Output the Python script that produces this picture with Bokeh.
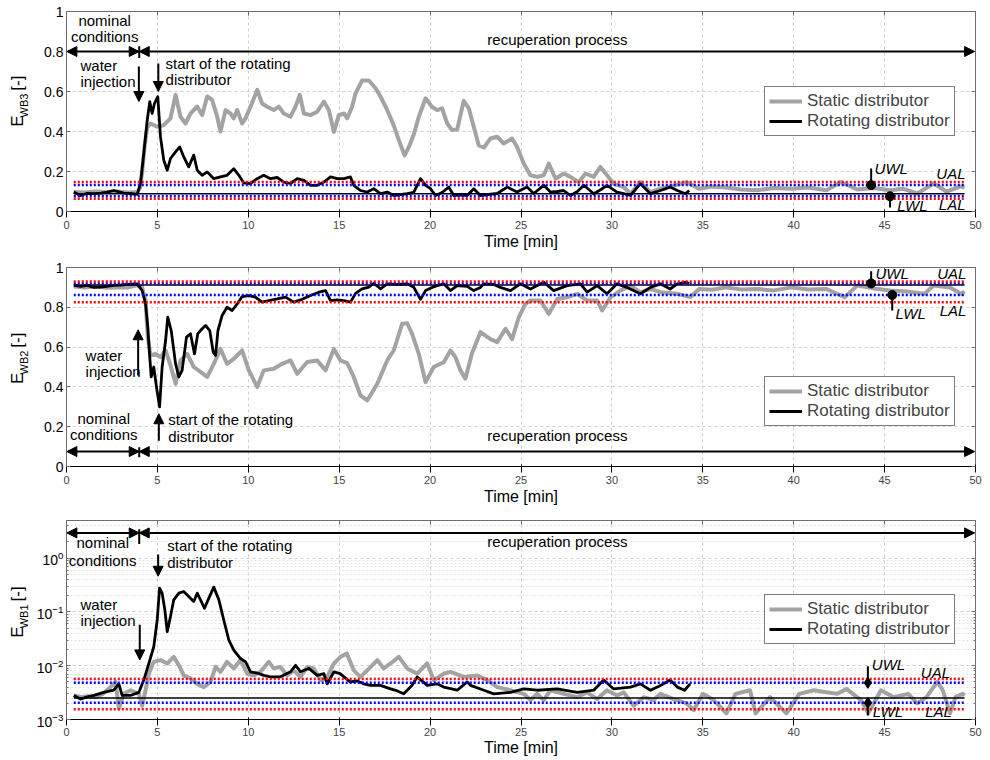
import math
from bokeh.plotting import figure
from bokeh.models import (Range1d, Arrow, NormalHead, Label, Legend, LegendItem,
                          FixedTicker, PrintfTickFormatter, LinearAxis, LogAxis,
                          CustomJSTickFormatter)
from bokeh.layouts import column, row
from bokeh.embed import file_html
from bokeh.resources import INLINE

FONT = "Liberation Sans"

# ---------------- data ----------------
time_ticks = [0, 5, 10, 15, 20, 25, 30, 35, 40, 45, 50]
lin_ticks = [0, 0.2, 0.4, 0.6, 0.8, 1]
log_ticks = [1e-3, 1e-2, 1e-1, 1e0]
series_names = ["Static distributor", "Rotating distributor"]

# (time [min], E_WB3)
wb3_static = [(0.4,0.098),(1.0,0.095),(1.6,0.1),(2.2,0.097),(2.8,0.1),(3.4,0.095),(3.9,0.097),(4.05,0.12),(4.17,0.205),(4.3,0.33),(4.44,0.42),(4.62,0.44),(4.99,0.424),(5.35,0.432),(5.72,0.466),(6.0,0.583),(6.27,0.474),(6.55,0.44),(6.82,0.49),(7.19,0.525),(7.46,0.482),(7.74,0.575),(8.01,0.558),(8.29,0.474),(8.47,0.4),(8.75,0.507),(9.02,0.49),(9.2,0.466),(9.39,0.507),(9.66,0.44),(9.85,0.466),(10.2,0.541),(10.49,0.608),(10.76,0.54),(11.04,0.524),(11.4,0.507),(11.68,0.524),(11.95,0.49),(12.32,0.474),(12.6,0.524),(12.83,0.583),(13.06,0.49),(13.42,0.482),(13.79,0.499),(14.16,0.549),(14.43,0.507),(14.71,0.398),(14.98,0.482),(15.26,0.49),(15.44,0.466),(15.71,0.524),(15.9,0.591),(16.26,0.655),(16.63,0.655),(17.0,0.616),(17.27,0.575),(17.55,0.524),(17.82,0.47),(18.0,0.43),(18.28,0.357),(18.6,0.28),(18.83,0.323),(19.1,0.385),(19.38,0.474),(19.75,0.566),(20.1,0.524),(20.39,0.507),(20.66,0.516),(20.94,0.44),(21.21,0.407),(21.49,0.41),(21.85,0.553),(22.13,0.516),(22.4,0.424),(22.68,0.33),(22.96,0.32),(23.32,0.365),(23.69,0.374),(24.05,0.34),(24.51,0.365),(24.78,0.324),(25.15,0.24),(25.52,0.181),(25.89,0.173),(26.25,0.181),(26.53,0.24),(26.9,0.164),(27.35,0.19),(27.72,0.173),(28.18,0.147),(28.55,0.19),(29.0,0.173),(29.37,0.223),(29.73,0.181),(30.1,0.139),(30.65,0.122),(31.02,0.089),(31.57,0.147),(32.12,0.097),(32.67,0.114),(33.4,0.13),(34.1,0.147),(34.8,0.114),(35.5,0.125),(36.3,0.12),(37.1,0.11),(38.0,0.106),(38.9,0.118),(39.9,0.114),(40.8,0.12),(41.8,0.106),(42.6,0.147),(43.5,0.11),(44.4,0.118),(45.3,0.106),(46.0,0.114),(46.8,0.09),(47.7,0.14),(48.4,0.1),(49.2,0.126),(49.4,0.12)]
wb3_rotating = [(0.4,0.097),(0.77,0.08),(1.1,0.09),(1.5,0.089),(1.9,0.092),(2.24,0.097),(2.6,0.105),(2.9,0.098),(3.15,0.092),(3.5,0.09),(3.89,0.086),(4.07,0.14),(4.25,0.29),(4.44,0.457),(4.58,0.549),(4.71,0.49),(4.84,0.54),(5.02,0.574),(5.17,0.373),(5.35,0.256),(5.54,0.206),(5.72,0.265),(6.0,0.298),(6.23,0.323),(6.45,0.273),(6.72,0.223),(7.0,0.282),(7.19,0.206),(7.46,0.181),(7.74,0.198),(8.1,0.164),(8.47,0.173),(8.83,0.181),(9.2,0.214),(9.48,0.181),(9.75,0.143),(10.12,0.14),(10.49,0.164),(10.85,0.181),(11.22,0.164),(11.59,0.17),(11.95,0.147),(12.32,0.14),(12.69,0.164),(13.06,0.156),(13.42,0.131),(13.79,0.131),(14.16,0.147),(14.52,0.173),(14.89,0.164),(15.26,0.164),(15.62,0.173),(15.8,0.131),(16.17,0.105),(16.54,0.097),(16.9,0.114),(17.27,0.089),(17.64,0.097),(18.0,0.08),(18.4,0.085),(18.74,0.089),(19.1,0.095),(19.47,0.164),(19.75,0.131),(20.02,0.114),(20.3,0.08),(20.66,0.095),(21.03,0.122),(21.3,0.08),(21.7,0.083),(22.04,0.08),(22.4,0.114),(22.77,0.08),(23.2,0.085),(23.69,0.09),(24.24,0.122),(24.78,0.097),(25.33,0.122),(25.7,0.09),(26.25,0.131),(26.62,0.097),(27.0,0.1),(27.35,0.105),(27.72,0.08),(28.1,0.1),(28.46,0.131),(29.0,0.089),(29.4,0.11),(29.73,0.131),(30.28,0.097),(30.65,0.089),(31.02,0.08),(31.57,0.139),(32.12,0.089),(32.67,0.105),(33.2,0.122),(33.6,0.105),(34.05,0.089),(34.25,0.105)]
wb3_limits = [0.064, 0.076, 0.089, 0.132, 0.147]   # LAL, LWL, CL, UWL, UAL

# (time [min], E_WB2)
wb2_static = [(0.4,0.905),(1.0,0.9),(1.6,0.905),(2.2,0.898),(2.8,0.9),(3.4,0.9),(3.89,0.91),(4.16,0.9),(4.35,0.834),(4.47,0.65),(4.62,0.558),(4.9,0.566),(5.17,0.55),(5.45,0.583),(5.72,0.508),(6.0,0.416),(6.27,0.533),(6.64,0.566),(7.0,0.5),(7.37,0.475),(7.74,0.45),(8.1,0.516),(8.47,0.591),(8.83,0.516),(9.2,0.541),(9.66,0.583),(10.03,0.483),(10.49,0.4),(10.85,0.483),(11.4,0.491),(11.86,0.516),(12.32,0.533),(12.69,0.466),(13.24,0.525),(13.79,0.533),(14.25,0.483),(14.71,0.591),(15.07,0.533),(15.44,0.52),(15.8,0.45),(16.17,0.357),(16.54,0.332),(17.09,0.415),(17.64,0.533),(18.0,0.583),(18.46,0.717),(18.74,0.72),(19.01,0.667),(19.38,0.566),(19.75,0.424),(20.2,0.5),(20.75,0.524),(21.12,0.583),(21.39,0.55),(21.67,0.483),(21.94,0.441),(22.31,0.57),(22.77,0.675),(23.32,0.64),(23.69,0.625),(24.15,0.692),(24.51,0.64),(24.88,0.75),(25.24,0.817),(25.52,0.834),(26.07,0.834),(26.53,0.767),(26.99,0.842),(27.54,0.85),(28.09,0.868),(28.64,0.834),(29.19,0.834),(29.46,0.784),(29.92,0.85),(30.46,0.884),(31.02,0.909),(31.57,0.876),(32.12,0.892),(32.67,0.876),(33.6,0.868),(34.3,0.851),(34.8,0.892),(35.5,0.888),(36.3,0.9),(37.1,0.89),(38.0,0.892),(38.9,0.885),(39.9,0.9),(40.8,0.89),(41.8,0.892),(42.8,0.851),(43.5,0.909),(44.4,0.895),(45.3,0.884),(46.2,0.88),(47.2,0.868),(47.7,0.909),(48.6,0.9),(49.2,0.868),(49.4,0.88)]
wb2_rotating = [(0.4,0.91),(0.8,0.905),(1.14,0.91),(1.5,0.9),(1.87,0.901),(2.2,0.905),(2.6,0.91),(3.0,0.912),(3.34,0.915),(3.89,0.918),(4.16,0.884),(4.35,0.817),(4.47,0.7),(4.58,0.55),(4.66,0.45),(4.8,0.5),(4.95,0.399),(5.12,0.3),(5.26,0.5),(5.45,0.633),(5.57,0.75),(5.76,0.683),(6.0,0.516),(6.18,0.45),(6.36,0.483),(6.6,0.65),(6.82,0.667),(7.04,0.566),(7.22,0.667),(7.46,0.692),(7.65,0.709),(7.88,0.683),(8.07,0.575),(8.2,0.558),(8.33,0.683),(8.56,0.759),(8.83,0.8),(9.11,0.784),(9.39,0.817),(9.66,0.854),(10.03,0.859),(10.39,0.851),(10.76,0.826),(11.13,0.834),(11.59,0.842),(12.05,0.851),(12.5,0.826),(12.96,0.84),(13.42,0.859),(13.88,0.876),(14.25,0.884),(14.52,0.834),(14.89,0.837),(15.26,0.834),(15.62,0.826),(15.9,0.87),(16.26,0.893),(16.63,0.901),(16.9,0.921),(17.27,0.893),(17.64,0.918),(18.19,0.915),(18.74,0.918),(19.1,0.901),(19.47,0.84),(19.75,0.884),(20.11,0.9),(20.39,0.909),(20.75,0.918),(21.12,0.884),(21.49,0.909),(22.04,0.905),(22.4,0.884),(22.77,0.9),(22.96,0.918),(23.5,0.915),(23.87,0.9),(24.42,0.884),(24.97,0.918),(25.52,0.892),(26.25,0.926),(26.8,0.884),(27.54,0.909),(28.27,0.918),(28.64,0.876),(29.19,0.909),(29.73,0.868),(30.28,0.918),(30.83,0.9),(31.57,0.868),(32.12,0.9),(32.67,0.918),(33.2,0.892),(33.6,0.918),(34.1,0.926),(34.25,0.92)]
wb2_limits = [0.826, 0.862, 0.912, 0.92, 0.93]   # LAL, LWL, CL, UWL, UAL

# (time [min], E_WB1)
wb1_static = [(0.4,0.0028),(0.8,0.0026),(1.2,0.0027),(1.6,0.0026),(2.0,0.003),(2.42,0.004),(2.7,0.005),(2.88,0.0016),(3.15,0.003),(3.52,0.0035),(3.98,0.003),(4.16,0.0018),(4.35,0.0035),(4.53,0.0071),(4.8,0.0118),(5.17,0.0127),(5.54,0.011),(5.9,0.0146),(6.18,0.0102),(6.45,0.0066),(6.82,0.0058),(7.19,0.0046),(7.55,0.004),(7.92,0.005),(8.2,0.0095),(8.47,0.0077),(8.83,0.0118),(9.2,0.0089),(9.57,0.0127),(9.94,0.0071),(10.3,0.0066),(10.67,0.0077),(11.13,0.0118),(11.4,0.0089),(11.77,0.0095),(12.14,0.0066),(12.5,0.0082),(12.87,0.0062),(13.24,0.0095),(13.6,0.0089),(13.97,0.0054),(14.34,0.0062),(14.71,0.011),(15.07,0.0146),(15.42,0.0169),(15.8,0.0082),(16.17,0.0062),(16.54,0.0082),(17.1,0.0127),(17.45,0.0089),(17.82,0.011),(18.28,0.0146),(18.74,0.0089),(19.29,0.0071),(19.84,0.011),(20.2,0.0054),(20.75,0.0071),(21.12,0.0077),(21.85,0.0062),(22.59,0.0066),(23.14,0.0054),(23.69,0.004),(24.42,0.0035),(25.15,0.003),(25.52,0.0023),(25.89,0.003),(26.25,0.0023),(26.62,0.0035),(27.35,0.003),(28.09,0.0026),(28.64,0.0032),(29.19,0.0024),(29.73,0.0035),(30.28,0.0028),(30.65,0.0032),(31.2,0.0018),(31.75,0.0026),(32.3,0.0023),(32.67,0.003),(33.4,0.0024),(34.1,0.002),(34.5,0.0015),(35.0,0.003),(35.6,0.0023),(36.3,0.0013),(36.8,0.003),(37.6,0.0035),(37.9,0.0013),(38.7,0.0026),(39.6,0.0013),(40.3,0.003),(41.1,0.0035),(41.8,0.0032),(42.4,0.003),(42.9,0.0037),(43.7,0.0023),(44.1,0.0013),(44.8,0.0035),(45.5,0.0026),(46.3,0.003),(46.8,0.002),(47.3,0.0026),(47.9,0.005),(48.2,0.0035),(48.6,0.0013),(48.9,0.0026),(49.3,0.003),(49.4,0.0028)]
wb1_rotating = [(0.4,0.0028),(0.77,0.0024),(1.1,0.0026),(1.5,0.0028),(2.05,0.0032),(2.6,0.0035),(2.88,0.0046),(3.06,0.0028),(3.52,0.0028),(3.98,0.0032),(4.25,0.0054),(4.53,0.011),(4.8,0.0225),(4.99,0.0708),(5.12,0.277),(5.26,0.223),(5.41,0.109),(5.54,0.043),(5.72,0.082),(5.9,0.1675),(6.18,0.223),(6.45,0.24),(6.72,0.194),(7.0,0.156),(7.19,0.223),(7.37,0.1675),(7.59,0.117),(7.83,0.18),(8.1,0.289),(8.38,0.1675),(8.65,0.0708),(8.93,0.03),(9.2,0.0195),(9.57,0.0136),(9.85,0.0118),(10.12,0.0077),(10.49,0.0073),(10.85,0.0066),(11.22,0.0062),(11.77,0.0062),(12.32,0.0077),(12.6,0.0102),(12.87,0.0077),(13.33,0.0089),(13.79,0.0066),(14.16,0.0071),(14.34,0.0046),(14.71,0.0077),(15.05,0.0071),(15.6,0.005),(16.0,0.0052),(16.35,0.0046),(16.72,0.0043),(17.27,0.0043),(17.82,0.0037),(18.2,0.0034),(18.55,0.003),(19.0,0.0043),(19.29,0.0062),(19.84,0.0043),(20.39,0.0046),(20.75,0.004),(21.49,0.0035),(22.04,0.005),(22.22,0.0043),(22.96,0.0035),(23.5,0.003),(24.42,0.0032),(25.15,0.0037),(25.89,0.0035),(26.99,0.0037),(28.09,0.0032),(29.0,0.0035),(29.55,0.0054),(30.1,0.0037),(31.02,0.004),(31.57,0.0046),(32.12,0.0035),(32.67,0.0043),(33.2,0.0054),(33.6,0.004),(34.0,0.0035),(34.3,0.0046)]
wb1_limits = [0.00155, 0.00204, 0.00252, 0.0048, 0.00568]   # LAL, LWL, CL, UWL, UAL

# marker times of the UWL / LWL call-outs
wb3_marker_t = [44.26, 45.3]
wb2_marker_t = [44.26, 45.42]
wb1_marker_t = [44.08, 44.08]

# ---------------- styling helpers ----------------
GREY = "#a3a3a3"
AXC = "#6e6e6e"
LAB_W = 30          # width of the strip that carries the y-axis titles
MAIN_W = 955
LOG_MINOR = [m * d for d in log_ticks for m in range(2, 10)]


def blank_axis(ax, ticker):
    ax.ticker = ticker
    ax.formatter = CustomJSTickFormatter(code="return ''")
    ax.major_tick_in = 4
    ax.major_tick_out = 0
    ax.minor_tick_in = 2
    ax.minor_tick_out = 0
    ax.major_label_standoff = 0
    ax.major_label_text_font_size = "1px"
    ax.axis_line_color = None
    ax.major_tick_line_color = AXC
    ax.minor_tick_line_color = AXC


def make_fig(height, top, bottom, log=False, tick_standoff=3, label_standoff=1):
    kw = dict(width=MAIN_W, height=height, output_backend="svg", toolbar_location=None,
              x_range=Range1d(0, 50), min_border_left=36, min_border_right=10,
              min_border_top=top, min_border_bottom=bottom,
              background_fill_color="white", border_fill_color="white")
    if log:
        p = figure(y_axis_type="log", y_range=Range1d(1e-3, 5), **kw)
        p.yaxis.ticker = FixedTicker(ticks=log_ticks, minor_ticks=LOG_MINOR)
        p.yaxis.minor_tick_in = 2
        p.yaxis.minor_tick_out = 0
        p.yaxis.minor_tick_line_color = AXC
        p.ygrid.minor_grid_line_color = "#e2e2e2"
        p.ygrid.minor_grid_line_dash = "2 2"
        right = LogAxis()
        blank_axis(right, FixedTicker(ticks=log_ticks, minor_ticks=LOG_MINOR))
    else:
        p = figure(y_range=Range1d(0, 1), **kw)
        p.yaxis.ticker = FixedTicker(ticks=lin_ticks)
        p.yaxis.formatter = PrintfTickFormatter(format="%g")
        p.yaxis.minor_tick_line_color = None
        right = LinearAxis()
        blank_axis(right, FixedTicker(ticks=lin_ticks))
    p.add_layout(right, "right")
    top_ax = LinearAxis()
    blank_axis(top_ax, FixedTicker(ticks=time_ticks))
    p.add_layout(top_ax, "above")
    p.xaxis.ticker = FixedTicker(ticks=time_ticks)
    p.xaxis[0].minor_tick_line_color = None
    for ax in (p.xaxis[0], p.yaxis[0]):
        ax.major_tick_in = 4
        ax.major_tick_out = 0
        ax.axis_line_color = AXC
        ax.major_tick_line_color = AXC
        ax.major_label_text_font = FONT
        ax.major_label_text_font_size = "14px"
        ax.major_label_text_color = "black"
        ax.major_label_standoff = 3
    xa = p.below[0]
    xa.major_label_standoff = tick_standoff
    xa.axis_label = "Time [min]"
    xa.axis_label_text_font = FONT
    xa.axis_label_text_font_size = "16px"
    xa.axis_label_text_font_style = "normal"
    xa.axis_label_text_color = "black"
    xa.axis_label_standoff = label_standoff
    p.grid.grid_line_color = "#cfcfcf"
    p.grid.grid_line_dash = "3 3"
    p.outline_line_color = AXC
    p.outline_line_width = 1
    return p


def label_strip(height, bottom, frame_h, sub):
    s = figure(width=LAB_W, height=height, output_backend="svg", toolbar_location=None,
               x_range=Range1d(0, LAB_W), y_range=Range1d(0, height),
               min_border=0, x_axis_location=None, y_axis_location=None,
               background_fill_color="white", border_fill_color="white")
    s.grid.visible = False
    s.outline_line_color = None
    yc = bottom + frame_h / 2.0
    base = dict(angle=math.pi / 2, text_font=FONT, text_baseline="middle",
                text_align="left", text_color="black")
    s.add_layout(Label(x=17, y=yc - 36, text="E", text_font_size="17px", **base))
    s.add_layout(Label(x=23, y=yc - 24, text=sub, text_font_size="11px", **base))
    s.add_layout(Label(x=17, y=yc + 10, text="[-]", text_font_size="17px", **base))
    return s


def add_series(p, static, rotating, limits):
    ts, vs = zip(*static)
    tr, vr = zip(*rotating)
    g = p.line(list(ts), list(vs), line_color=GREY, line_width=4, line_join="round")
    b = p.line(list(tr), list(vr), line_color="black", line_width=2.8, line_join="round")
    t0, t1 = ts[0], ts[-1]
    lal, lwl, cl, uwl, ual = limits
    p.line([t0, t1], [cl, cl], line_color="black", line_width=1.5)
    for val in (lwl, uwl):
        p.line([t0, t1], [val, val], line_color="#0000ff", line_width=2.5, line_dash="2 2")
    for val in (lal, ual):
        p.line([t0, t1], [val, val], line_color="#ff0000", line_width=2.5, line_dash="2 2")
    return g, b


def add_legend(p, g, b, loc):
    leg = Legend(items=[LegendItem(label=series_names[0], renderers=[g]),
                        LegendItem(label=series_names[1], renderers=[b])],
                 location=loc, border_line_color="black", border_line_width=1,
                 background_fill_color="white", background_fill_alpha=1.0,
                 label_text_font=FONT, label_text_font_size="17px",
                 glyph_width=33, glyph_height=20, label_height=20,
                 padding=4, spacing=0, margin=0, label_standoff=5)
    p.add_layout(leg)


def txt(p, x, y, s, align="left", size="15px", style="normal"):
    p.add_layout(Label(x=x, y=y, text=s, text_font=FONT, text_font_size=size,
                       text_font_style=style, text_align=align,
                       text_baseline="middle", text_color="black"))


def arrow(p, x0, y0, x1, y1, start=False, end=True):
    head = lambda: NormalHead(size=10, fill_color="black", line_color="black", line_width=1)
    p.add_layout(Arrow(x_start=x0, y_start=y0, x_end=x1, y_end=y1,
                       start=head() if start else None, end=head() if end else None,
                       line_color="black", line_width=2))


def callouts(p, mt, limits, uwl_top, lwl_bot, uwl_txt, lwl_txt, ual_txt, lal_txt, marker):
    lal, lwl, cl, uwl, ual = limits
    arrow(p, mt[0], uwl, mt[0], uwl_top, end=False)
    arrow(p, mt[1], lwl, mt[1], lwl_bot, end=False)
    p.scatter([mt[0], mt[1]], [uwl, lwl], marker=marker, size=11 if marker == "diamond" else 9,
              fill_color="black", line_color="black")
    txt(p, uwl_txt[0], uwl_txt[1], "UWL", style="italic")
    txt(p, lwl_txt[0], lwl_txt[1], "LWL", style="italic")
    txt(p, ual_txt[0], ual_txt[1], "UAL", align="right", style="italic")
    txt(p, lal_txt[0], lal_txt[1], "LAL", align="right", style="italic")


# ---------------- panel 1 : E_WB3 ----------------
H1, T1, B1 = 255, 11, 44
p1 = make_fig(H1, T1, B1)
g, b = add_series(p1, wb3_static, wb3_rotating, wb3_limits)
add_legend(p1, g, b, (698, 75))
arrow(p1, 0.02, 0.8, 4.0, 0.8, start=True)
arrow(p1, 4.0, 0.8, 49.95, 0.8, start=True)
arrow(p1, 4.0, 0.767, 4.0, 0.826, end=False)
txt(p1, 2.1, 0.957, "nominal", align="center")
txt(p1, 2.1, 0.876, "conditions", align="center")
txt(p1, 27.0, 0.86, "recuperation process", align="center")
txt(p1, 0.77, 0.73, "water")
txt(p1, 0.77, 0.65, "injection")
arrow(p1, 3.98, 0.725, 3.98, 0.55)
txt(p1, 5.45, 0.742, "start of the rotating")
txt(p1, 5.45, 0.658, "distributor")
arrow(p1, 5.05, 0.74, 5.05, 0.6)
callouts(p1, wb3_marker_t, wb3_limits, 0.215, 0.02, (44.45, 0.215), (45.7, 0.03),
         (49.45, 0.189), (49.45, 0.035), "circle")
s1 = label_strip(H1, B1, H1 - T1 - B1, "WB3")

# ---------------- panel 2 : E_WB2 ----------------
H2, T2, B2 = 252, 12, 41
p2 = make_fig(H2, T2, B2)
g, b = add_series(p2, wb2_static, wb2_rotating, wb2_limits)
add_legend(p2, g, b, (698, 40))
arrow(p2, 0.02, 0.075, 4.0, 0.075, start=True)
arrow(p2, 4.0, 0.075, 49.95, 0.075, start=True)
arrow(p2, 4.0, 0.047, 4.0, 0.097, end=False)
txt(p2, 2.05, 0.243, "nominal", align="center")
txt(p2, 2.05, 0.159, "conditions", align="center")
txt(p2, 27.0, 0.156, "recuperation process", align="center")
txt(p2, 1.05, 0.558, "water")
txt(p2, 1.05, 0.479, "injection")
arrow(p2, 3.94, 0.457, 3.94, 0.687)
txt(p2, 5.59, 0.235, "start of the rotating")
txt(p2, 5.59, 0.151, "distributor")
arrow(p2, 5.08, 0.13, 5.08, 0.265)
callouts(p2, wb2_marker_t, wb2_limits, 0.981, 0.784, (44.5, 0.968), (45.6, 0.77),
         (49.5, 0.968), (49.5, 0.784), "circle")
s2 = label_strip(H2, B2, H2 - T2 - B2, "WB2")

# ---------------- panel 3 : E_WB1 (log) ----------------
H3, T3, B3 = 252, 13, 40
p3 = make_fig(H3, T3, B3, log=True, tick_standoff=2, label_standoff=0)
g, b = add_series(p3, wb1_static, wb1_rotating, wb1_limits)
add_legend(p3, g, b, (698, 75))
arrow(p3, 0.02, 2.94, 4.0, 2.94, start=True)
arrow(p3, 4.0, 2.94, 49.95, 2.94, start=True)
arrow(p3, 4.0, 1.82, 4.0, 3.44, end=False)
txt(p3, 0.55, 1.92, "nominal")
txt(p3, 0.13, 0.906, "conditions")
txt(p3, 27.0, 2.0, "recuperation process", align="center")
txt(p3, 0.77, 0.139, "water")
txt(p3, 0.77, 0.068, "injection")
arrow(p3, 4.03, 0.0575, 4.03, 0.0128)
txt(p3, 5.54, 1.72, "start of the rotating")
txt(p3, 5.54, 0.82, "distributor")
arrow(p3, 5.04, 1.17, 5.04, 0.46)
callouts(p3, wb1_marker_t, wb1_limits, 0.0098, 0.00119, (44.3, 0.0107), (44.35, 0.00138),
         (48.6, 0.0075), (48.7, 0.00138), "diamond")
s3 = label_strip(H3, B3, H3 - T3 - B3, "WB1")

layout = column(row(s1, p1, spacing=0), row(s2, p2, spacing=0), row(s3, p3, spacing=0),
                spacing=0)
open("out.html", "w").write(file_html(layout, INLINE))
